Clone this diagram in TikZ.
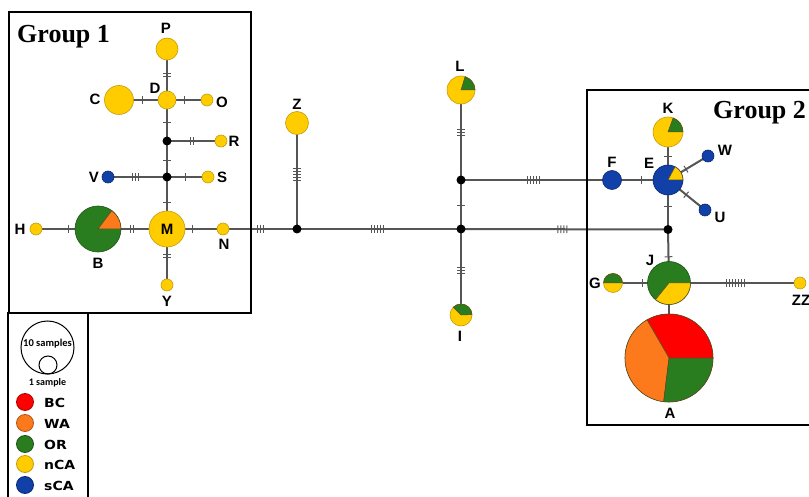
\documentclass[tikz,border=0pt]{standalone}
\usepackage{fontspec}
\setmainfont{Liberation Sans}
\newfontfamily\titlefont{Liberation Serif}
\newfontfamily\legendfont{Carlito}
\newfontfamily\keyfont{DejaVu Sans}[FakeStretch=1.12]
\usetikzlibrary{decorations.markings}
\pgfdeclarelayer{background}
\pgfsetlayers{background,main}

\definecolor{hapYellow}{RGB}{255,204,0}
\definecolor{hapYellowD}{RGB}{196,156,10}
\definecolor{hapGreen}{RGB}{42,125,30}
\definecolor{hapGreenD}{RGB}{30,80,25}
\definecolor{hapOrange}{RGB}{252,122,28}
\definecolor{hapRed}{RGB}{255,0,0}
\definecolor{hapBlue}{RGB}{16,64,168}
\definecolor{hapBlueD}{RGB}{10,40,110}
\definecolor{linkGrey}{RGB}{85,85,85}
\definecolor{sliceLine}{RGB}{90,75,30}

% pie slice over a haplotype circle: node, radius, start angle, end angle, colour
\newcommand\pieslice[5]{%
  \filldraw[fill=#5, draw=sliceLine, line width=0.5pt]
    (#1.center) -- ++(#3:#2) arc[start angle=#3, end angle=#4, radius=#2] -- cycle;}

\begin{document}
\begin{tikzpicture}[x=1pt, y=1pt,
  hapbase/.style={circle, inner sep=0pt, line width=0.6pt},
  hapY/.style={hapbase, minimum size=#1, fill=hapYellow, draw=hapYellowD},
  hapG/.style={hapbase, minimum size=#1, fill=hapGreen, draw=hapGreenD},
  hapB/.style={hapbase, minimum size=#1, fill=hapBlue, draw=hapBlueD},
  hub/.style={circle, fill=black, inner sep=0pt, minimum size=9pt},
  link/.style={draw=linkGrey, line width=2pt},
  hashes/.style 2 args={postaction={decorate, decoration={markings,
      mark=at position #2 with {\foreach \k in {1,...,#1}{%
        \draw[line width=1pt, draw=linkGrey]
          ({(\k-(#1+1)/2)*3},-3.8) -- ({(\k-(#1+1)/2)*3},3.8);}}}}},
  lbl/.style={font=\fontsize{15}{15}\selectfont\bfseries, inner sep=0pt},
  grouptitle/.style={font=\titlefont\fontsize{26}{26}\selectfont\bfseries, inner sep=0pt, anchor=west},
  frame/.style={draw=black, line width=2pt},
  keydot/.style={circle, inner sep=0pt, minimum size=17pt, line width=0.8pt},
  keytext/.style={font=\keyfont\fontsize{12.5}{12.5}\selectfont\bfseries, inner sep=0pt, anchor=west},
]
\useasboundingbox (0,0) rectangle (809,-497);

% group frames and legend frame
\draw[frame] (9,-12) rectangle (251,-313);
\draw[frame] (8,-313) rectangle (88,-520);
\draw[frame] (587,-90) rectangle (830,-425);
\node[grouptitle] (g1title) at (17,-37) {Group 1};
\node[grouptitle] (g2title) at (713,-113) {Group 2};

% median vectors
\node[hub] (h1) at (167,-141) {};
\node[hub] (h2) at (167,-177) {};
\node[hub] (h3) at (297,-229) {};
\node[hub] (h4) at (461,-180) {};
\node[hub] (h5) at (461,-229) {};
\node[hub] (h6) at (668,-229.5) {};

% haplotypes of group 1
\node[hapY=22pt] (P) at (167,-49) {};
\node[hapY=18pt] (D) at (167,-100) {};
\node[hapY=29pt] (C) at (119,-100) {};
\node[hapY=12pt] (O) at (207,-100) {};
\node[hapY=12pt] (R) at (221,-141) {};
\node[hapB=12pt] (V) at (108,-177) {};
\node[hapY=12pt] (S) at (208,-177) {};
\node[hapY=36pt] (M) at (167,-229) {};
\node[hapG=46pt] (B) at (98,-229) {};
\node[hapY=12pt] (H) at (36,-229) {};
\node[hapY=12pt] (N) at (223,-229) {};
\node[hapY=12pt] (Y) at (167,-285) {};

% haplotypes between the groups
\node[hapY=23pt] (Z) at (297,-123) {};
\node[hapY=28pt] (L) at (461,-90) {};
\node[hapY=22pt] (I) at (461,-315) {};

% haplotypes of group 2
\node[hapB=19pt] (F) at (612,-180) {};
\node[hapB=30pt] (E) at (668,-180) {};
\node[hapY=30pt] (K) at (668,-132) {};
\node[hapB=12pt] (W) at (708,-156) {};
\node[hapB=12pt] (U) at (705,-210) {};
\node[hapG=43pt] (J) at (669,-283) {};
\node[hapY=19pt] (G) at (613,-283) {};
\node[hapY=12pt] (ZZ) at (800,-283) {};
\node[hapbase, minimum size=88pt, fill=hapGreen, draw=sliceLine] (A) at (669,-358) {};

% pie slices
\pieslice{B}{23}{0}{53}{hapOrange}
\pieslice{L}{14}{0}{73}{hapGreen}
\pieslice{I}{11}{2}{135}{hapGreen}
\pieslice{K}{15}{0}{70}{hapGreen}
\pieslice{E}{15}{0}{62}{hapYellow}
\pieslice{J}{21.5}{231}{360}{hapYellow}
\pieslice{G}{9.5}{0}{180}{hapGreen}
\pieslice{A}{44}{0}{120}{hapRed}
\pieslice{A}{44}{120}{263}{hapOrange}
\pieslice{A}{44}{263}{360}{hapGreen}

% links with mutation marks
\begin{pgfonlayer}{background}
\draw[link, hashes={2}{0.51}] (P.center) -- (D.center);
\draw[link, hashes={1}{0.48}] (C.center) -- (D.center);
\draw[link, hashes={1}{0.43}] (D.center) -- (O.center);
\draw[link, hashes={1}{0.54}] (D.center) -- (h1.center);
\draw[link, hashes={2}{0.46}] (h1.center) -- (R.center);
\draw[link, hashes={1}{0.53}] (h1.center) -- (h2.center);
\draw[link, hashes={3}{0.46}] (V.center) -- (h2.center);
\draw[link, hashes={1}{0.44}] (h2.center) -- (S.center);
\draw[link, hashes={1}{0.50}] (h2.center) -- (M.center);
\draw[link, hashes={1}{0.52}] (H.center) -- (B.center);
\draw[link, hashes={2}{0.49}] (B.center) -- (M.center);
\draw[link, hashes={1}{0.46}] (M.center) -- (N.center);
\draw[link, hashes={2}{0.48}] (M.center) -- (Y.center);
\draw[link, hashes={3}{0.51}] (N.center) -- (h3.center);
\draw[link, hashes={5}{0.49}] (Z.center) -- (h3.center);
\draw[link, hashes={5}{0.49}] (h3.center) -- (h5.center);
\draw[link, hashes={3}{0.47}] (L.center) -- (h4.center);
\draw[link, hashes={1}{0.52}] (h4.center) -- (h5.center);
\draw[link, hashes={3}{0.48}] (h5.center) -- (I.center);
\draw[link, hashes={5}{0.48}] (h4.center) -- (F.center);
\draw[link, hashes={1}{0.52}] (F.center) -- (E.center);
\draw[link, hashes={4}{0.49}] (h5.center) -- (h6.center);
\draw[link, hashes={1}{0.48}] (E.center) -- (K.center);
\draw[link, hashes={1}{0.45}] (E.center) -- (W.center);
\draw[link, hashes={1}{0.49}] (E.center) -- (U.center);
\draw[link, hashes={1}{0.54}] (E.center) -- (h6.center);
\draw[link, hashes={1}{0.51}] (h6.center) -- (J.center);
\draw[link, hashes={1}{0.52}] (G.center) -- (J.center);
\draw[link, hashes={7}{0.51}] (J.center) -- (ZZ.center);
\draw[link] (J.center) -- (A.center);
\end{pgfonlayer}

% haplotype names
\node[lbl] (lP) at (166,-28) {P};
\node[lbl] (lD) at (155,-88) {D};
\node[lbl] (lC) at (95,-99) {C};
\node[lbl] (lO) at (222,-102) {O};
\node[lbl] (lR) at (234,-141) {R};
\node[lbl] (lV) at (94,-177) {V};
\node[lbl] (lS) at (222,-177) {S};
\node[lbl] (lM) at (167,-229) {M};
\node[lbl] (lB) at (98,-263) {B};
\node[lbl] (lH) at (20,-229) {H};
\node[lbl] (lN) at (224,-244) {N};
\node[lbl] (lY) at (167,-301) {Y};
\node[lbl] (lZ) at (297,-104) {Z};
\node[lbl] (lL) at (460,-66) {L};
\node[lbl] (lI) at (460,-336) {I};
\node[lbl] (lK) at (668,-108) {K};
\node[lbl] (lF) at (612,-162) {F};
\node[lbl] (lE) at (649,-163) {E};
\node[lbl] (lW) at (725,-150) {W};
\node[lbl] (lU) at (720,-217) {U};
\node[lbl] (lJ) at (650,-260) {J};
\node[lbl] (lG) at (595,-283) {G};
\node[lbl] (lZZ) at (801,-300) {ZZ};
\node[lbl] (lA) at (670,-413) {A};

% legend: circle sizes
\node[circle, draw=black, line width=1pt, inner sep=0pt, minimum size=53pt] (ten) at (47.5,-347.5) {};
\node[circle, draw=black, line width=1pt, inner sep=0pt, minimum size=18pt] (one) at (48,-365) {};
\node[font=\legendfont\fontsize{10.5}{10.5}\selectfont\bfseries, inner sep=0pt] (tenlbl) at (47.5,-344) {10 samples};
\node[font=\legendfont\fontsize{10}{10}\selectfont\bfseries, inner sep=0pt] (onelbl) at (47.5,-383) {1 sample};

% legend: regions
\node[keydot, fill=hapRed, draw=red!70!black] (kBC) at (25,-402) {};
\node[keydot, fill=hapOrange, draw=hapOrange!70!black] (kWA) at (25,-423) {};
\node[keydot, fill=hapGreen, draw=hapGreenD] (kOR) at (25,-444) {};
\node[keydot, fill=hapYellow, draw=hapYellowD] (knCA) at (25,-464) {};
\node[keydot, fill=hapBlue, draw=hapBlueD] (ksCA) at (25,-485) {};
\node[keytext] (tBC) at (44,-403) {BC};
\node[keytext] (tWA) at (44,-424) {WA};
\node[keytext] (tOR) at (44,-445) {OR};
\node[keytext] (tnCA) at (44,-465) {nCA};
\node[keytext] (tsCA) at (44,-486) {sCA};
\end{tikzpicture}
\end{document}
